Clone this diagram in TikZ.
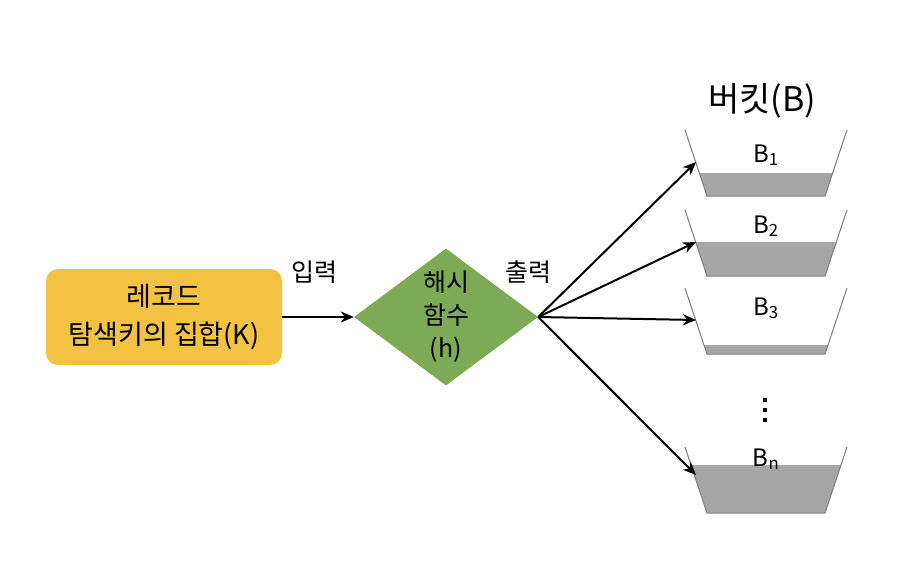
\documentclass[tikz,border=0pt]{standalone}
\usepackage{fontspec}
\setmainfont{Noto Sans CJK KR}
\usetikzlibrary{arrows.meta,shapes.geometric}
\definecolor{boxyellow}{HTML}{F4C242}
\definecolor{hashgreen}{HTML}{7DAA55}
\definecolor{bucketfill}{HTML}{A6A6A6}
\definecolor{bucketline}{HTML}{808080}
\begin{document}
\begin{tikzpicture}[x=1pt,y=-1pt,
  arr/.style={draw=black,line width=2pt,-{Stealth[length=13pt,width=11pt,inset=4pt]}},
  lbl/.style={font=\fontsize{25}{30}\selectfont,inner sep=0pt},
  blab/.style={font=\fontsize{24}{28}\selectfont,inner sep=0pt,anchor=base}]
\useasboundingbox (0,0) rectangle (914,574);
% record box
\node[fill=boxyellow, rounded corners=12pt, minimum width=236pt, minimum height=96pt,
      align=center, inner sep=0pt, font=\fontsize{27}{38}\selectfont] (rec) at (164,317)
      {레코드\\탐색키의 집합(K)};
% hash diamond
\node[diamond, aspect=1.343, minimum width=184pt, minimum height=137pt, inner sep=0pt,
      fill=hashgreen] (hash) at (446,317) {};
\node[align=center, inner sep=0pt, font=\fontsize{25}{33}\selectfont] (hashtxt) at (446,317)
      {해시\\함수\\(h)};
% labels
\node[lbl] (inlbl) at (314,272) {입력};
\node[lbl] (outlbl) at (528,272) {출력};
\node[font=\fontsize{34}{38}\selectfont, inner sep=0pt] (btitle) at (762,101) {버킷(B)};
% buckets
\foreach \T/\F/\nm in {130/173/b1, 210/242/b2, 288/345/b3, 447/465/bn} {
  \pgfmathsetmacro\d{22*(\F-\T)/66}
  \fill[bucketfill] (685+\d,\F) -- (707,\T+66) -- (825,\T+66) -- (847-\d,\F) -- cycle;
  \draw[bucketline, line width=1pt] (685,\T) -- (707,\T+66) -- (825,\T+66) -- (847,\T);
  \coordinate (in\nm) at (696,\T+32);
}
\node[blab] (lb1) at (766,162) {B\textsubscript{1}};
\node[blab] (lb2) at (766,233) {B\textsubscript{2}};
\node[blab] (lb3) at (766,315) {B\textsubscript{3}};
\node[blab] (lbn) at (766,466) {B\textsubscript{n}};
% dots
\foreach \y in {400,410,420} \fill (763,\y-2) rectangle (767,\y+2);
% arrows
\draw[arr] (rec.east) -- (hash.west);
\draw[arr] (hash.east) -- (inb1);
\draw[arr] (hash.east) -- (inb2);
\draw[arr] (hash.east) -- (inb3);
\draw[arr] (hash.east) -- ([yshift=4pt]inbn);
\end{tikzpicture}
\end{document}
